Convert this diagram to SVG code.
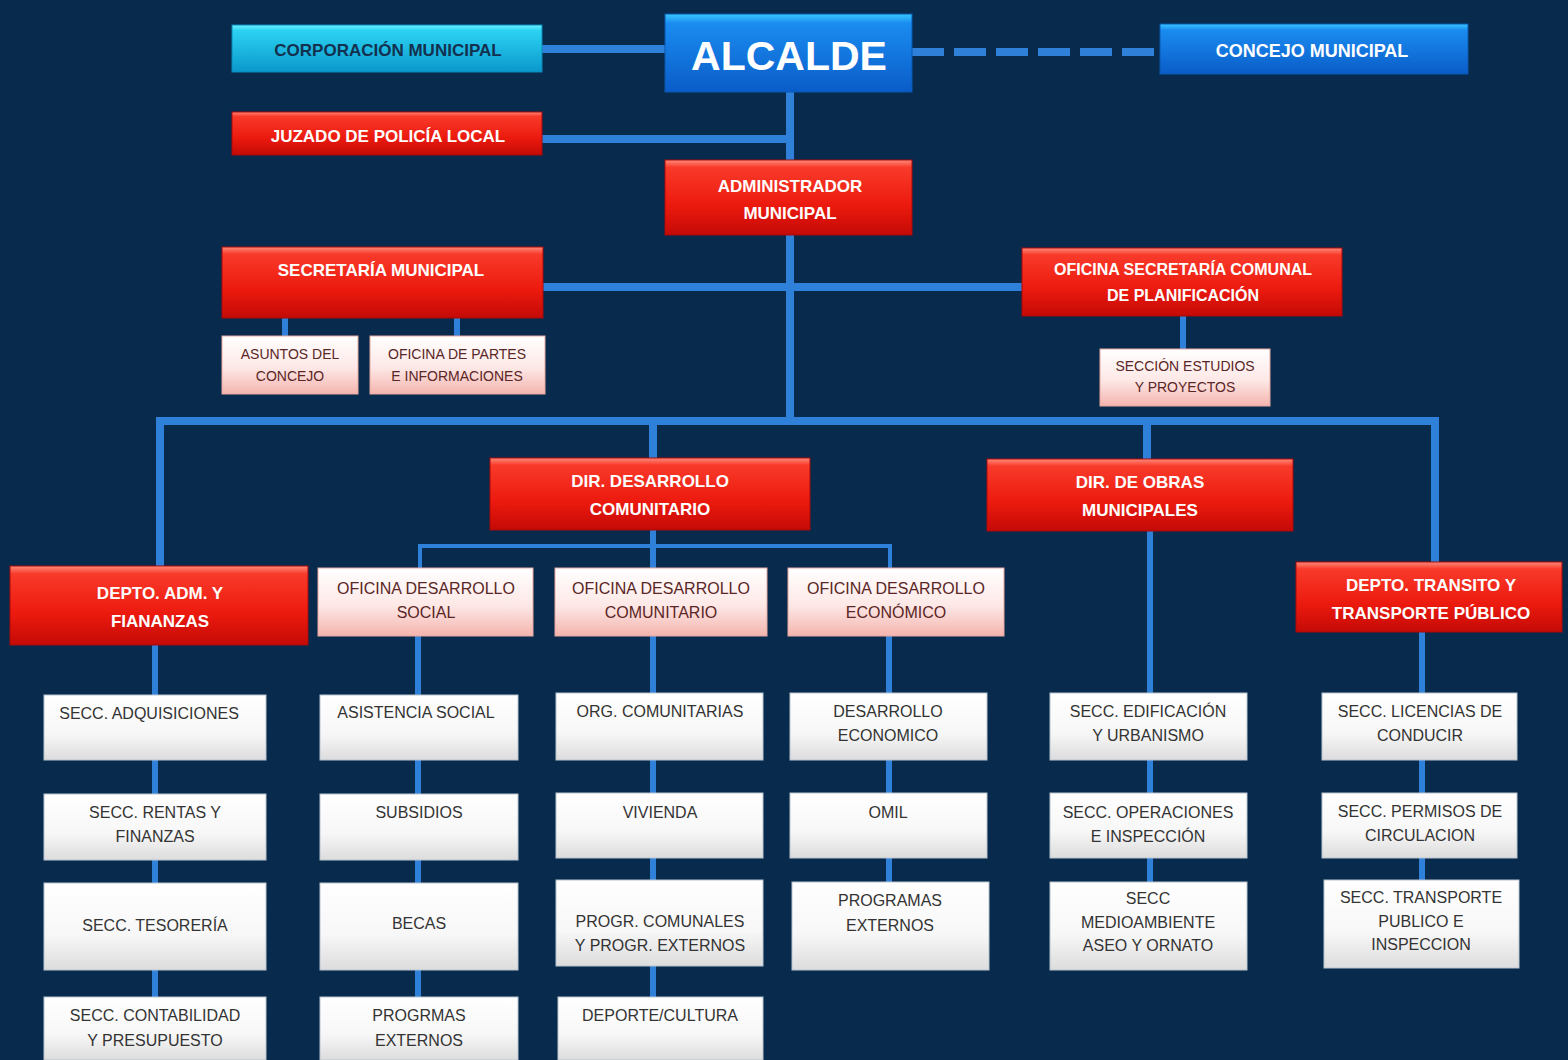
<svg xmlns="http://www.w3.org/2000/svg" width="1568" height="1060" viewBox="0 0 1568 1060">
<defs>
<linearGradient id="gRed" x1="0" y1="0" x2="0" y2="1">
<stop offset="0" stop-color="#ff8a7a"/><stop offset="0.1" stop-color="#f83a2a"/><stop offset="0.6" stop-color="#ec1a0e"/><stop offset="1" stop-color="#c40a06"/>
</linearGradient>
<linearGradient id="gPink" x1="0" y1="0" x2="0" y2="1">
<stop offset="0" stop-color="#ffffff"/><stop offset="0.55" stop-color="#fde8e6"/><stop offset="1" stop-color="#f4b4ae"/>
</linearGradient>
<linearGradient id="gWhite" x1="0" y1="0" x2="0" y2="1">
<stop offset="0" stop-color="#ffffff"/><stop offset="0.6" stop-color="#f7f7f7"/><stop offset="1" stop-color="#dcdcdc"/>
</linearGradient>
<linearGradient id="gCyan" x1="0" y1="0" x2="0" y2="1">
<stop offset="0" stop-color="#6ef0ff"/><stop offset="0.12" stop-color="#2cd2f2"/><stop offset="1" stop-color="#0a98cc"/>
</linearGradient>
<linearGradient id="gBlue" x1="0" y1="0" x2="0" y2="1">
<stop offset="0" stop-color="#38c8ff"/><stop offset="0.12" stop-color="#1a8cf0"/><stop offset="1" stop-color="#0a5cc8"/>
</linearGradient>
</defs>
<style>
.red{fill:url(#gRed);stroke:#a80a08;stroke-width:1}
.pink{fill:url(#gPink);stroke:#e8a8a0;stroke-width:1}
.white{fill:url(#gWhite);stroke:#b8c4d0;stroke-width:1}
.cyan{fill:url(#gCyan);stroke:#0a8ab8;stroke-width:1}
.blue{fill:url(#gBlue);stroke:#0a56b0;stroke-width:1}
text{font-family:"Liberation Sans Narrow","Liberation Sans",Arial,sans-serif;text-anchor:middle}
.tr{fill:#ffffff;font-weight:bold;font-size:17px}
.tp{fill:#5a2626;font-size:14px}
.tw{fill:#333333;font-size:16px}
.conn{stroke:#2f80d8;fill:none}
.main{stroke-width:8}
.mid{stroke-width:6}
.thin{stroke-width:4}
</style>
<rect width="1568" height="1060" fill="#082b4d"/>

<g id="connectors">
<line class="conn main" x1="542" y1="49" x2="666" y2="49"/>
<line class="conn main" x1="912" y1="52" x2="1160" y2="52" stroke-dasharray="32,10"/>
<line class="conn main" x1="790" y1="90" x2="790" y2="421"/>
<line class="conn main" x1="542" y1="139" x2="790" y2="139"/>
<line class="conn main" x1="543" y1="287" x2="1022" y2="287"/>
<line class="conn mid" x1="285" y1="318" x2="285" y2="336"/>
<line class="conn mid" x1="457" y1="318" x2="457" y2="336"/>
<line class="conn mid" x1="1183" y1="316" x2="1183" y2="349"/>
<path class="conn main" d="M160 566 V421 H1435 V562"/>
<line class="conn main" x1="653" y1="421" x2="653" y2="458"/>
<line class="conn main" x1="1147" y1="421" x2="1147" y2="460"/>
<line class="conn mid" x1="653" y1="530" x2="653" y2="568"/>
<path class="conn thin" d="M420 568 V546 H890 V568"/>
<line class="conn mid" x1="1150" y1="531" x2="1150" y2="882"/>
<line class="conn mid" x1="155" y1="645" x2="155" y2="997"/>
<line class="conn mid" x1="418" y1="636" x2="418" y2="997"/>
<line class="conn mid" x1="653" y1="636" x2="653" y2="997"/>
<line class="conn mid" x1="889" y1="636" x2="889" y2="882"/>
<line class="conn mid" x1="1422" y1="632" x2="1422" y2="880"/>
</g>

<g id="n-corporacion"><rect class="cyan" x="232" y="25" width="310" height="47"/><text x="388" y="56" style="fill:#13314f;font-weight:bold;font-size:17px">CORPORACIÓN MUNICIPAL</text></g>
<g id="n-alcalde"><rect class="blue" x="665" y="14" width="247" height="78"/><text x="789" y="70" style="fill:#ffffff;font-family:'Liberation Sans',Arial,sans-serif;font-weight:bold;font-size:41px">ALCALDE</text></g>
<g id="n-concejo"><rect class="blue" x="1160" y="24" width="308" height="50"/><text x="1312" y="57" style="fill:#ffffff;font-weight:bold;font-size:18px">CONCEJO MUNICIPAL</text></g>
<g id="n-juzgado"><rect class="red" x="232" y="112" width="310" height="43"/><text class="tr" x="388" y="142">JUZADO DE  POLICÍA LOCAL</text></g>
<g id="n-administrador"><rect class="red" x="665" y="160" width="247" height="75"/><text class="tr" x="790" y="192">ADMINISTRADOR</text><text class="tr" x="790" y="219">MUNICIPAL</text></g>
<g id="n-secretaria"><rect class="red" x="222" y="247" width="321" height="71"/><text class="tr" x="381" y="276">SECRETARÍA  MUNICIPAL</text></g>
<g id="n-secplan"><rect class="red" x="1022" y="248" width="320" height="68"/><text class="tr" x="1183" y="275" style="font-size:16px">OFICINA SECRETARÍA  COMUNAL</text><text class="tr" x="1183" y="301" style="font-size:16px">DE PLANIFICACIÓN</text></g>
<g id="n-asuntos"><rect class="pink" x="222" y="336" width="136" height="58"/><text class="tp" x="290" y="359">ASUNTOS DEL</text><text class="tp" x="290" y="381">CONCEJO</text></g>
<g id="n-partes"><rect class="pink" x="370" y="336" width="175" height="58"/><text class="tp" x="457" y="359">OFICINA DE PARTES</text><text class="tp" x="457" y="381">E INFORMACIONES</text></g>
<g id="n-estudios"><rect class="pink" x="1100" y="349" width="170" height="57"/><text class="tp" x="1185" y="371">SECCIÓN ESTUDIOS</text><text class="tp" x="1185" y="392">Y PROYECTOS</text></g>

<g id="n-dideco"><rect class="red" x="490" y="458" width="320" height="72"/><text class="tr" x="650" y="487">DIR. DESARROLLO</text><text class="tr" x="650" y="515">COMUNITARIO</text></g>
<g id="n-dom"><rect class="red" x="987" y="459" width="306" height="72"/><text class="tr" x="1140" y="488">DIR. DE OBRAS</text><text class="tr" x="1140" y="516">MUNICIPALES</text></g>
<g id="n-daf"><rect class="red" x="10" y="566" width="298" height="79"/><text class="tr" x="160" y="599">DEPTO. ADM. Y</text><text class="tr" x="160" y="627">FIANANZAS</text></g>
<g id="n-transito"><rect class="red" x="1296" y="562" width="266" height="70"/><text class="tr" x="1431" y="591">DEPTO. TRANSITO Y</text><text class="tr" x="1431" y="619">TRANSPORTE PÚBLICO</text></g>
<g id="n-ofsocial"><rect class="pink" x="318" y="568" width="215" height="68"/><text class="tp" x="426" y="594" style="font-size:16px">OFICINA DESARROLLO</text><text class="tp" x="426" y="618" style="font-size:16px">SOCIAL</text></g>
<g id="n-ofcom"><rect class="pink" x="555" y="568" width="212" height="68"/><text class="tp" x="661" y="594" style="font-size:16px">OFICINA DESARROLLO</text><text class="tp" x="661" y="618" style="font-size:16px">COMUNITARIO</text></g>
<g id="n-ofeco"><rect class="pink" x="788" y="568" width="216" height="68"/><text class="tp" x="896" y="594" style="font-size:16px">OFICINA DESARROLLO</text><text class="tp" x="896" y="618" style="font-size:16px">ECONÓMICO</text></g>

<g id="n-adquisiciones"><rect class="white" x="44" y="695" width="222" height="65"/><text class="tw" x="149" y="719">SECC. ADQUISICIONES</text></g>
<g id="n-rentas"><rect class="white" x="44" y="794" width="222" height="66"/><text class="tw" x="155" y="818">SECC. RENTAS  Y</text><text class="tw" x="155" y="842">FINANZAS</text></g>
<g id="n-tesoreria"><rect class="white" x="44" y="883" width="222" height="87"/><text class="tw" x="155" y="931">SECC. TESORERÍA</text></g>
<g id="n-contabilidad"><rect class="white" x="44" y="997" width="222" height="63"/><text class="tw" x="155" y="1021">SECC. CONTABILIDAD</text><text class="tw" x="155" y="1046">Y PRESUPUESTO</text></g>

<g id="n-asistencia"><rect class="white" x="320" y="695" width="198" height="65"/><text class="tw" x="416" y="718">ASISTENCIA SOCIAL</text></g>
<g id="n-subsidios"><rect class="white" x="320" y="794" width="198" height="66"/><text class="tw" x="419" y="818">SUBSIDIOS</text></g>
<g id="n-becas"><rect class="white" x="320" y="883" width="198" height="87"/><text class="tw" x="419" y="929">BECAS</text></g>
<g id="n-progrmas"><rect class="white" x="320" y="997" width="198" height="63"/><text class="tw" x="419" y="1021">PROGRMAS</text><text class="tw" x="419" y="1046">EXTERNOS</text></g>

<g id="n-org"><rect class="white" x="556" y="693" width="207" height="67"/><text class="tw" x="660" y="717">ORG. COMUNITARIAS</text></g>
<g id="n-vivienda"><rect class="white" x="556" y="793" width="207" height="65"/><text class="tw" x="660" y="818">VIVIENDA</text></g>
<g id="n-progr"><rect class="white" x="556" y="880" width="207" height="86"/><text class="tw" x="660" y="927">PROGR. COMUNALES</text><text class="tw" x="660" y="951">Y PROGR. EXTERNOS</text></g>
<g id="n-deporte"><rect class="white" x="558" y="997" width="205" height="63"/><text class="tw" x="660" y="1021">DEPORTE/CULTURA</text></g>

<g id="n-deseco"><rect class="white" x="790" y="693" width="197" height="67"/><text class="tw" x="888" y="717">DESARROLLO</text><text class="tw" x="888" y="741">ECONOMICO</text></g>
<g id="n-omil"><rect class="white" x="790" y="793" width="197" height="65"/><text class="tw" x="888" y="818">OMIL</text></g>
<g id="n-progext"><rect class="white" x="792" y="882" width="197" height="88"/><text class="tw" x="890" y="906">PROGRAMAS</text><text class="tw" x="890" y="931">EXTERNOS</text></g>

<g id="n-edificacion"><rect class="white" x="1050" y="693" width="197" height="67"/><text class="tw" x="1148" y="717">SECC. EDIFICACIÓN</text><text class="tw" x="1148" y="741">Y URBANISMO</text></g>
<g id="n-operaciones"><rect class="white" x="1050" y="793" width="197" height="65"/><text class="tw" x="1148" y="818">SECC. OPERACIONES</text><text class="tw" x="1148" y="842">E INSPECCIÓN</text></g>
<g id="n-medioambiente"><rect class="white" x="1050" y="882" width="197" height="88"/><text class="tw" x="1148" y="904">SECC</text><text class="tw" x="1148" y="928">MEDIOAMBIENTE</text><text class="tw" x="1148" y="951">ASEO Y ORNATO</text></g>

<g id="n-licencias"><rect class="white" x="1322" y="693" width="195" height="67"/><text class="tw" x="1420" y="717">SECC. LICENCIAS DE</text><text class="tw" x="1420" y="741">CONDUCIR</text></g>
<g id="n-permisos"><rect class="white" x="1322" y="793" width="195" height="65"/><text class="tw" x="1420" y="817">SECC. PERMISOS DE</text><text class="tw" x="1420" y="841">CIRCULACION</text></g>
<g id="n-transporte"><rect class="white" x="1324" y="880" width="195" height="88"/><text class="tw" x="1421" y="903">SECC. TRANSPORTE</text><text class="tw" x="1421" y="927">PUBLICO E</text><text class="tw" x="1421" y="950">INSPECCION</text></g>
</svg>
